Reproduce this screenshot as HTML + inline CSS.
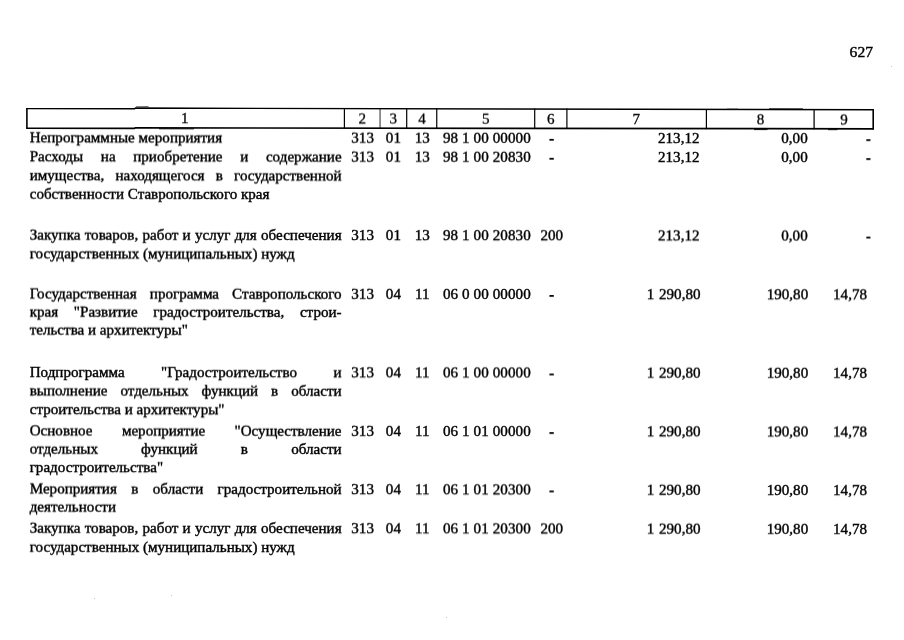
<!DOCTYPE html>
<html lang="ru"><head><meta charset="utf-8"><title>627</title>
<style>
html,body{margin:0;padding:0;background:#fff;}
body{width:904px;height:640px;overflow:hidden;position:relative;font-family:"Liberation Serif",serif;font-size:15.08px;line-height:18.0px;color:#000;-webkit-text-stroke:0.42px #000;}
.ly{position:absolute;left:0;top:0;width:904px;height:18.0px;transform-origin:0 0;will-change:transform;}
.t{position:absolute;top:0;white-space:nowrap;height:18.0px;}
.j{text-align:justify;text-align-last:justify;white-space:normal;}
.c{text-align:center;}
.r{text-align:right;}
.d{position:absolute;top:0;left:0;}
#grid{position:absolute;left:0;top:0;}
</style></head><body>

<svg id="grid" width="904" height="640" viewBox="0 0 904 640" shape-rendering="geometricPrecision" fill="none" stroke="#000"><polyline points="26.25,108.60 134.50,108.75 135.50,108.10 873.90,109.80" stroke-width="1.45"/><polyline points="26.25,128.25 134.50,128.33 135.50,127.85 873.90,128.80" stroke-width="1.7"/><line x1="136" y1="106.9" x2="148.5" y2="106.7" stroke-width="0.9" stroke="#333"/><line x1="159" y1="128.78" x2="194" y2="128.83" stroke-width="1.0"/><line x1="769" y1="108.81" x2="803" y2="108.89" stroke-width="0.9"/><line x1="727" y1="108.66" x2="738" y2="108.69" stroke-width="0.6" stroke="#555"/><line x1="754" y1="129.60" x2="767.5" y2="129.61" stroke-width="0.9"/><line x1="828" y1="129.69" x2="837.5" y2="129.70" stroke-width="0.9"/><circle cx="891.5" cy="66.5" r="0.6" fill="#bbb" stroke="none"/><circle cx="94.5" cy="598.5" r="0.6" fill="#bbb" stroke="none"/><circle cx="171.5" cy="595.5" r="0.6" fill="#bbb" stroke="none"/><circle cx="446.5" cy="617.5" r="0.6" fill="#bbb" stroke="none"/><line x1="26.90" y1="108.10" x2="26.90" y2="128.85" stroke-width="1.60"/><line x1="344.40" y1="108.08" x2="344.40" y2="128.72" stroke-width="1.20"/><line x1="380.05" y1="108.16" x2="380.05" y2="128.77" stroke-width="0.85"/><line x1="406.70" y1="108.23" x2="406.70" y2="128.80" stroke-width="1.20"/><line x1="436.75" y1="108.30" x2="436.75" y2="128.84" stroke-width="1.20"/><line x1="534.70" y1="108.52" x2="534.70" y2="128.96" stroke-width="1.20"/><line x1="566.90" y1="108.59" x2="566.90" y2="129.01" stroke-width="1.20"/><line x1="706.40" y1="108.92" x2="706.40" y2="129.19" stroke-width="1.20"/><line x1="814.10" y1="109.16" x2="814.10" y2="129.32" stroke-width="1.25"/><line x1="873.20" y1="109.30" x2="873.20" y2="129.40" stroke-width="1.60"/></svg>
<div class="ly" style="transform:translateY(42.73px)"><div class="t r" style="left:800px;width:73.0px;font-size:15.6px">627</div></div>
<div class="ly" style="-webkit-text-stroke-width:0.3px;transform:translateY(108.66px) skewY(0.1269deg)"><div class="t c" style="left:164.8px;width:40px">1</div><div class="t c" style="left:342.3px;width:40px">2</div><div class="t c" style="left:373.2px;width:40px">3</div><div class="t c" style="left:402.0px;width:40px">4</div><div class="t c" style="left:465.7px;width:40px">5</div><div class="t c" style="left:530.8px;width:40px">6</div><div class="t c" style="left:616.4px;width:40px">7</div><div class="t c" style="left:740.5px;width:40px">8</div><div class="t c" style="left:824.0px;width:40px">9</div></div>
<div class="ly" style="transform:translateY(128.31px) skewY(0.0609deg)"><div class="t" style="left:29.7px;width:311.9px">Непрограммные мероприятия</div><div class="t" style="left:351.3px">313</div><div class="t c" style="left:363.4px;width:60px">01</div><div class="t c" style="left:392.2px;width:60px">13</div><div class="t" style="letter-spacing:0.1px;left:442.9px">98 1 00 00000</div><div class="t r" style="left:599.5px;width:100px">213,12</div><div class="t r" style="left:707.7px;width:100px">0,00</div><svg class="d" width="904" height="18" viewBox="0 0 904 18" shape-rendering="geometricPrecision" fill="#000"><rect x="549.35" y="9.99" width="4.5" height="1.8" rx="0.5"/><rect x="866.25" y="9.99" width="4.3" height="1.8" rx="0.5"/></svg></div>
<div class="ly" style="transform:translateY(147.26px) skewY(0.0609deg)"><div class="t j" style="left:29.7px;width:311.9px">Расходы на приобретение и содержание</div><div class="t" style="left:351.3px">313</div><div class="t c" style="left:363.4px;width:60px">01</div><div class="t c" style="left:392.2px;width:60px">13</div><div class="t" style="letter-spacing:0.1px;left:442.9px">98 1 00 20830</div><div class="t r" style="left:599.5px;width:100px">213,12</div><div class="t r" style="left:707.7px;width:100px">0,00</div><svg class="d" width="904" height="18" viewBox="0 0 904 18" shape-rendering="geometricPrecision" fill="#000"><rect x="549.35" y="9.99" width="4.5" height="1.8" rx="0.5"/><rect x="866.25" y="9.99" width="4.3" height="1.8" rx="0.5"/></svg></div>
<div class="ly" style="transform:translateY(166.16px) skewY(0.0725deg)"><div class="t j" style="left:29.7px;width:311.9px">имущества, находящегося в государственной</div></div>
<div class="ly" style="transform:translateY(184.66px) skewY(0.0725deg)"><div class="t" style="left:29.7px;width:311.9px">собственности Ставропольского края</div></div>
<div class="ly" style="transform:translateY(225.61px) skewY(0.0682deg)"><div class="t j" style="left:29.7px;width:311.9px">Закупка товаров, работ и услуг для обеспечения</div><div class="t" style="left:351.3px">313</div><div class="t c" style="left:363.4px;width:60px">01</div><div class="t c" style="left:392.2px;width:60px">13</div><div class="t" style="letter-spacing:0.1px;left:442.9px">98 1 00 20830</div><div class="t c" style="left:521.8px;width:60px">200</div><div class="t r" style="left:599.5px;width:100px">213,12</div><div class="t r" style="left:707.7px;width:100px">0,00</div><svg class="d" width="904" height="18" viewBox="0 0 904 18" shape-rendering="geometricPrecision" fill="#000"><rect x="866.25" y="9.99" width="4.3" height="1.8" rx="0.5"/></svg></div>
<div class="ly" style="transform:translateY(244.36px) skewY(0.0725deg)"><div class="t" style="left:29.7px;width:311.9px">государственных (муниципальных) нужд</div></div>
<div class="ly" style="transform:translateY(284.46px) skewY(0.0609deg)"><div class="t j" style="left:29.7px;width:311.9px">Государственная программа Ставропольского</div><div class="t" style="left:351.3px">313</div><div class="t c" style="left:363.4px;width:60px">04</div><div class="t c" style="left:392.2px;width:60px">11</div><div class="t" style="letter-spacing:0.1px;left:442.9px">06 0 00 00000</div><div class="t r" style="word-spacing:1px;left:600.5px;width:100px">1 290,80</div><div class="t r" style="left:708.2px;width:100px">190,80</div><div class="t r" style="left:767.0px;width:100px">14,78</div><svg class="d" width="904" height="18" viewBox="0 0 904 18" shape-rendering="geometricPrecision" fill="#000"><rect x="549.35" y="9.99" width="4.5" height="1.8" rx="0.5"/></svg></div>
<div class="ly" style="transform:translateY(302.56px) skewY(0.0725deg)"><div class="t j" style="left:29.7px;width:311.9px">края &quot;Развитие градостроительства, строи-</div></div>
<div class="ly" style="transform:translateY(320.56px) skewY(0.0725deg)"><div class="t" style="left:29.7px;width:311.9px">тельства и архитектуры&quot;</div></div>
<div class="ly" style="transform:translateY(362.96px) skewY(0.0609deg)"><div class="t j" style="left:29.7px;width:311.9px">Подпрограмма &quot;Градостроительство и</div><div class="t" style="left:351.3px">313</div><div class="t c" style="left:363.4px;width:60px">04</div><div class="t c" style="left:392.2px;width:60px">11</div><div class="t" style="letter-spacing:0.1px;left:442.9px">06 1 00 00000</div><div class="t r" style="word-spacing:1px;left:600.5px;width:100px">1 290,80</div><div class="t r" style="left:708.2px;width:100px">190,80</div><div class="t r" style="left:767.0px;width:100px">14,78</div><svg class="d" width="904" height="18" viewBox="0 0 904 18" shape-rendering="geometricPrecision" fill="#000"><rect x="549.35" y="9.99" width="4.5" height="1.8" rx="0.5"/></svg></div>
<div class="ly" style="transform:translateY(381.41px) skewY(0.0725deg)"><div class="t j" style="left:29.7px;width:311.9px">выполнение отдельных функций в области</div></div>
<div class="ly" style="transform:translateY(400.11px) skewY(0.0725deg)"><div class="t" style="left:29.7px;width:311.9px">строительства и архитектуры&quot;</div></div>
<div class="ly" style="transform:translateY(421.36px) skewY(0.0827deg)"><div class="t j" style="left:29.7px;width:311.9px">Основное мероприятие &quot;Осуществление</div><div class="t" style="left:351.3px">313</div><div class="t c" style="left:363.4px;width:60px">04</div><div class="t c" style="left:392.2px;width:60px">11</div><div class="t" style="letter-spacing:0.1px;left:442.9px">06 1 01 00000</div><div class="t r" style="word-spacing:1px;left:600.5px;width:100px">1 290,80</div><div class="t r" style="left:708.2px;width:100px">190,80</div><div class="t r" style="left:767.0px;width:100px">14,78</div><svg class="d" width="904" height="18" viewBox="0 0 904 18" shape-rendering="geometricPrecision" fill="#000"><rect x="549.35" y="9.99" width="4.5" height="1.8" rx="0.5"/></svg></div>
<div class="ly" style="transform:translateY(439.61px) skewY(0.0725deg)"><div class="t j" style="left:29.7px;width:311.9px">отдельных функций в области</div></div>
<div class="ly" style="transform:translateY(458.01px) skewY(0.0725deg)"><div class="t" style="left:29.7px;width:311.9px">градостроительства&quot;</div></div>
<div class="ly" style="transform:translateY(479.41px) skewY(0.1160deg)"><div class="t j" style="left:29.7px;width:311.9px">Мероприятия в области градостроительной</div><div class="t" style="left:351.3px">313</div><div class="t c" style="left:363.4px;width:60px">04</div><div class="t c" style="left:392.2px;width:60px">11</div><div class="t" style="letter-spacing:0.1px;left:442.9px">06 1 01 20300</div><div class="t r" style="word-spacing:1px;left:600.5px;width:100px">1 290,80</div><div class="t r" style="left:708.2px;width:100px">190,80</div><div class="t r" style="left:767.0px;width:100px">14,78</div><svg class="d" width="904" height="18" viewBox="0 0 904 18" shape-rendering="geometricPrecision" fill="#000"><rect x="549.35" y="9.99" width="4.5" height="1.8" rx="0.5"/></svg></div>
<div class="ly" style="transform:translateY(497.56px) skewY(0.0725deg)"><div class="t" style="left:29.7px;width:311.9px">деятельности</div></div>
<div class="ly" style="transform:translateY(518.66px) skewY(0.0870deg)"><div class="t j" style="left:29.7px;width:311.9px">Закупка товаров, работ и услуг для обеспечения</div><div class="t" style="left:351.3px">313</div><div class="t c" style="left:363.4px;width:60px">04</div><div class="t c" style="left:392.2px;width:60px">11</div><div class="t" style="letter-spacing:0.1px;left:442.9px">06 1 01 20300</div><div class="t c" style="left:521.8px;width:60px">200</div><div class="t r" style="word-spacing:1px;left:600.5px;width:100px">1 290,80</div><div class="t r" style="left:708.2px;width:100px">190,80</div><div class="t r" style="left:767.0px;width:100px">14,78</div></div>
<div class="ly" style="transform:translateY(537.71px) skewY(0.0725deg)"><div class="t" style="left:29.7px;width:311.9px">государственных (муниципальных) нужд</div></div>
</body></html>
